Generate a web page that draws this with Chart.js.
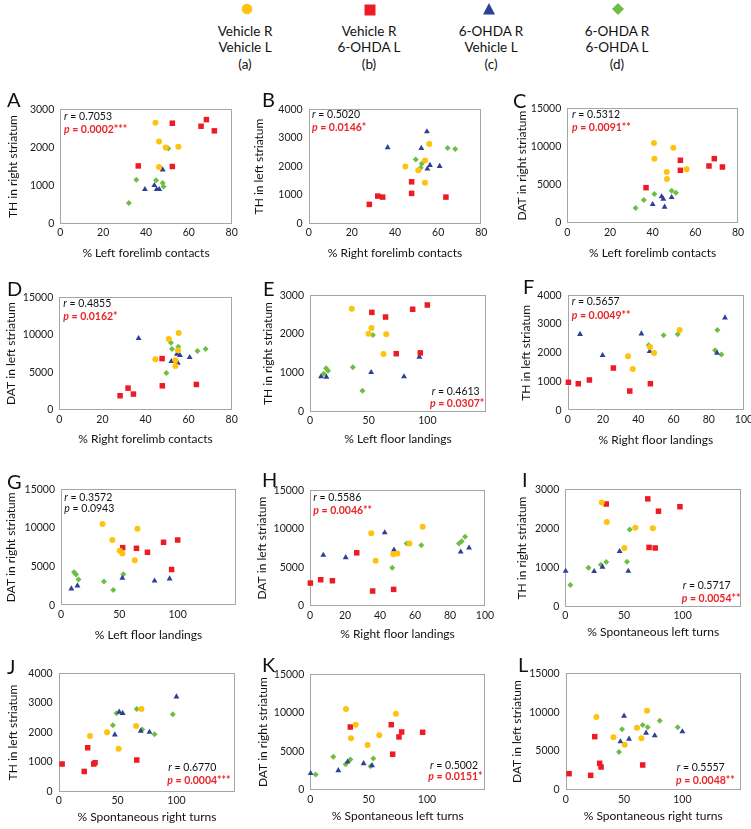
<!DOCTYPE html>
<html><head><meta charset="utf-8">
<script src="https://cdn.jsdelivr.net/npm/chart.js@4.4.1/dist/chart.umd.min.js"></script>
<style>
html,body{margin:0;padding:0;background:#fff;overflow:hidden;width:751px;height:829px;}
body{position:relative;font-family:Lato,'Liberation Sans',sans-serif;color:#111;}
canvas{position:absolute;}
.lbl{position:absolute;font-size:20px;line-height:1;color:#111;}
.ann{position:absolute;font-size:10.5px;line-height:1;white-space:nowrap;color:#111;}
.ann.red{color:#e8262a;font-weight:bold;}
.leg{position:absolute;text-align:center;font-size:13.5px;line-height:16.5px;width:120px;color:#111;}
svg.mk{position:absolute;}
</style></head><body>
<script>
// ---------- groups ----------
const groupLines = [['Vehicle R','Vehicle L','(a)'],['Vehicle R','6-OHDA L','(b)'],['6-OHDA R','Vehicle L','(c)'],['6-OHDA R','6-OHDA L','(d)']];
const groupColors = ['#FFC20E','#ED1C24','#2E3F96','#6DBE45'];
const groupShapes = ['circle','rect','triangle','rectRot'];
const groupRadius = [3,3.9,3.4,3];

// ---------- data: [x, y] per group (a, b, c, d) ----------
const A_a=[[44.4,2650],[46.1,2155],[49.2,2000],[55.1,2015],[46.1,1490]];
const A_b=[[52.3,2635],[65.7,2555],[68.2,2730],[71.9,2435],[36.4,1515],[52.3,1500]];
const A_c=[[39.5,900],[43.9,1005],[45.0,900],[46.2,900],[47.8,1415]];
const A_d=[[50.4,1970],[35.5,1150],[44.7,1140],[47.8,1065],[48.2,975],[32.0,545]];

const B_a=[[44.8,2000],[50.8,1870],[53.9,2210],[53.9,1430],[55.9,2790]];
const B_b=[[28.1,675],[32.0,965],[34.3,930],[47.7,1465],[47.7,1060],[63.6,930]];
const B_c=[[36.6,2665],[52.2,2640],[54.8,3220],[55.0,1920],[56.2,2045],[60.7,2010]];
const B_d=[[49.6,2245],[52.4,2095],[51.9,1955],[64.4,2650],[67.9,2615]];

const C_a=[[40.6,10460],[40.8,8415],[49.7,9855],[46.6,6670],[46.7,5755],[55.9,7020]];
const C_b=[[36.9,4620],[53.0,8200],[53.0,6890],[66.4,7455],[68.9,8415],[72.7,7325]];
const C_c=[[40.0,2440],[44.2,3445],[45.0,3140],[45.6,2095],[48.9,3355]];
const C_d=[[32.0,1960],[35.9,3010],[40.8,3795],[48.9,4230],[50.9,3970]];

const D_a=[[44.6,6750],[50.8,9440],[55.4,10235],[53.9,6620],[53.9,5870],[55.1,7940]];
const D_b=[[28.2,1900],[31.9,2910],[34.4,2120],[47.7,6840],[47.8,3220],[63.6,3400]];
const D_c=[[36.8,9530],[52.0,6485],[54.6,7455],[55.0,6265],[56.0,7280],[60.5,7015]];
const D_d=[[49.7,4940],[51.8,8955],[52.3,8120],[55.2,8425],[64.1,7855],[67.9,8120]];

const E_a=[[35.6,2655],[52.4,2160],[49.9,2010],[65.0,1995],[62.7,1485]];
const E_b=[[52.7,2560],[64.4,2440],[87.5,2640],[100,2750],[73.5,1495],[94.0,1515]];
const E_c=[[9.4,905],[14.0,895],[52.1,1015],[80.1,905],[93.2,1410]];
const E_d=[[13.7,1117],[15.4,1057],[11.7,980],[36.5,1143],[44.7,540],[53.6,1977]];

const F_a=[[34.2,1880],[36.9,1435],[46.7,2200],[49.0,1995],[63.5,2795]];
const F_b=[[0.4,975],[6.0,925],[12.3,1055],[25.9,1470],[35.2,670],[46.9,925]];
const F_c=[[7.0,2645],[19.8,1910],[41.8,2665],[46.5,2050],[84.7,1995],[89.2,3220]];
const F_d=[[45.9,2260],[54.4,2610],[62.4,2645],[84.9,2795],[83.6,2085],[87.2,1945]];

const G_a=[[35.6,10500],[44.0,8445],[65.5,9900],[50.3,7070],[52.6,6685],[63.2,5830]];
const G_b=[[52.9,7455],[64.7,7370],[74.1,6855],[87.9,8145],[100,8445],[94.8,4630]];
const G_c=[[8.9,2145],[14.1,2530],[52.6,3515],[80.2,3170],[93.1,3430]];
const G_d=[[11.2,4280],[12.9,3990],[15.0,3350],[36.8,3085],[44.8,1970],[53.4,4030]];

const H_a=[[35.0,9440],[37.5,5860],[47.6,6725],[49.9,6810],[56.8,8105],[64.4,10260]];
const H_b=[[0.2,2975],[6.1,3405],[12.8,3275],[26.7,6895],[35.8,1940],[47.8,2155]];
const H_c=[[7.6,6595],[20.4,6295],[42.7,9525],[48.0,7285],[86.1,7025],[90.9,7545]];
const H_d=[[47.0,4955],[55.2,8105],[63.6,7885],[85.1,8105],[86.7,8405],[88.6,8965]];

const I_a=[[31.1,2660],[35.4,2165],[59.7,2020],[74.6,2005],[50.3,1500]];
const I_b=[[34.9,2625],[70.3,2755],[79.4,2440],[97.7,2555],[71.4,1515],[76.6,1500]];
const I_c=[[0.3,910],[24.6,905],[31.7,1015],[46.3,1415],[53.7,910]];
const I_d=[[4.3,555],[19.7,995],[30.3,1075],[34.9,1140],[52.6,1150],[54.9,1975]];

const J_a=[[26.6,1880],[41.1,2005],[50.9,1455],[65.7,2220],[70.3,2795]];
const J_b=[[2.9,935],[21.7,685],[24.6,1485],[29.7,935],[30.9,980],[66.3,1070]];
const J_c=[[47.7,1925],[51.4,2695],[54.3,2650],[69.7,2050],[77.1,2015],[100,3210]];
const J_d=[[46.0,2245],[49.1,2650],[66.3,2795],[70.9,2105],[81.4,1940],[96.9,2615]];

const K_a=[[30.6,10490],[38.9,8465],[34.9,6705],[73.4,9885],[59.1,7090],[49.1,5845]];
const K_b=[[34.3,8165],[69.4,8465],[78.3,7520],[76.0,6875],[96.3,7480],[70.6,4640]];
const K_c=[[0.3,2150],[24.0,2535],[32.0,3655],[45.7,3440],[52.9,3180]];
const K_d=[[4.6,2020],[19.7,4300],[30.3,3350],[34.3,3955],[51.7,3095],[54.0,4085]];

const L_a=[[26.3,9385],[40.9,6770],[50.6,5830],[61.1,8015],[64.9,6650],[69.7,10200]];
const L_b=[[2.9,2100],[21.4,1885],[24.9,6855],[29.1,3430],[30.3,2955],[66.0,3215]];
const L_c=[[50.0,9515],[46.9,6215],[54.3,6555],[68.9,7330],[76.3,6985],[100,7500]];
const L_d=[[45.7,4885],[48.3,7800],[66.0,8355],[70.3,8055],[80.6,8915],[96.0,8055]];

// ---------- labels ----------
const panelIds = ['A','B','C','D','E','F','G','H','I','J','K','L'];
const xTitles = ['% Left forelimb contacts','% Right forelimb contacts','% Left forelimb contacts','% Right forelimb contacts','% Left floor landings','% Right floor landings','% Left floor landings','% Right floor landings','% Spontaneous left turns','% Spontaneous right turns','% Spontaneous left turns','% Spontaneous right turns'];
const yTitles = ['TH in right striatum','TH in left striatum','DAT in right striatum','DAT in left striatum','TH in right striatum','TH in left striatum','DAT in right striatum','DAT in left striatum','TH in right striatum','TH in left striatum','DAT in right striatum','DAT in left striatum'];
const rValues = ['0.7053','0.5020','0.5312','0.4855','0.4613','0.5657','0.3572','0.5586','0.5717','0.6770','0.5002','0.5557'];
const pValues = ['0.0002***','0.0146*','0.0091**','0.0162*','0.0307*','0.0049**','0.0943','0.0046**','0.0054**','0.0004***','0.0151*','0.0048**'];
const pSignificant = [true,true,true,true,true,true,false,true,true,true,true,true];
const xMaxes = [80,80,80,80,150,100,150,100,150,150,150,150];
const xSteps = [20,20,20,20,50,20,50,20,50,50,50,50];
const xLabelMax = [80,80,80,80,100,100,100,100,100,100,100,100];
const yMaxes = [3000,4000,15000,15000,3000,4000,15000,15000,3000,4000,15000,15000];
const ySteps = [1000,1000,5000,5000,1000,1000,5000,5000,1000,1000,5000,5000];
const panelData = {A:[A_a,A_b,A_c,A_d],B:[B_a,B_b,B_c,B_d],C:[C_a,C_b,C_c,C_d],D:[D_a,D_b,D_c,D_d],E:[E_a,E_b,E_c,E_d],F:[F_a,F_b,F_c,F_d],G:[G_a,G_b,G_c,G_d],H:[H_a,H_b,H_c,H_d],I:[I_a,I_b,I_c,I_d],J:[J_a,J_b,J_c,J_d],K:[K_a,K_b,K_c,K_d],L:[L_a,L_b,L_c,L_d]};

// ---------- layout (page pixels) ----------
// plot area [left, right, top, bottom], y-title centre x, x-title centre y
const plotBoxes = [
 [60.3,231.7,109,223.7,13.3,252.3],[308.7,481.3,109,223.7,259,252.3],[567.3,738,108.3,223,521.7,252.3],
 [59.3,231.7,296.7,410,11.7,439],[310,486,295.3,411.7,268,439],[567.7,744,295.3,410.3,526,440],
 [61,236,488.7,605.3,11.7,634.3],[310,485,490,606,261.7,634],[565.3,741.3,489.3,606.7,521.7,631.7],
 [58.7,235.3,673.3,791.7,13.3,816.7],[310.3,485.3,673.7,790,263.3,815.7],[565.7,740.7,673.3,790,516.7,815.7]];
const letterPos = [[7,89],[262,89],[513,90],[7,278],[263,278],[523,276],[7,471],[262,469],[522,469],[7,656],[262,654],[518,654]];
const annPos = [[64,111,64,124],[312,108.5,312,122],[572,108.5,572,122],[63.3,298,63.3,311],[431.7,386,430,398],[571.7,296,571.7,310],
 [64.3,492,64.3,503],[313.3,492,313.3,504.5],[682.7,579.5,681.7,593],[168.3,762,167.3,774.5],[430,759.5,428.3,771],[676.7,762,676,774.5]];

Chart.defaults.font.family = "Lato, 'Liberation Sans', sans-serif";
Chart.defaults.color = '#1a1a1a';

const frame = {id:'frame', beforeDatasetsDraw(c){
  const a=c.chartArea, x=c.ctx; x.save(); x.strokeStyle='#a6a6a6'; x.lineWidth=1;
  const l=Math.round(a.left)+0.5, t=Math.round(a.top)+0.5, r=Math.round(a.right)-0.5, b=Math.round(a.bottom)-0.5;
  x.strokeRect(l,t,r-l,b-t); x.restore();
}};

function el(tag, cls, html, css){const e=document.createElement(tag); if(cls)e.className=cls; if(html!=null)e.innerHTML=html; Object.assign(e.style,css||{}); document.body.appendChild(e); return e;}

// legend
const legCenters=[245,369,491,617];
const legMarkers=[[247,9],[370,10],[489,9],[618,9]];
groupLines.forEach((lines,i)=>{
  el('div','leg',lines.join('<br>'),{left:(legCenters[i]-60)+'px',top:'22.5px'});
  const [mx,my]=legMarkers[i]; const s=14;
  let shape='';
  if(i===0) shape=`<circle cx="7" cy="7" r="5.3" fill="${groupColors[0]}"/>`;
  if(i===1) shape=`<rect x="1.5" y="1.5" width="11" height="11" fill="${groupColors[1]}"/>`;
  if(i===2) shape=`<polygon points="7,1 13,12.5 1,12.5" fill="${groupColors[2]}"/>`;
  if(i===3) shape=`<polygon points="7,1 13,7 7,13 1,7" fill="${groupColors[3]}"/>`;
  el('div',null,`<svg class="mk" width="${s}" height="${s}">${shape}</svg>`,{position:'absolute',left:(mx-7)+'px',top:(my-7)+'px',width:s+'px',height:s+'px'});
});

panelIds.forEach((id,i)=>{
  const [L,R,T,B,yt,xt]=plotBoxes[i];
  const half=7.2;
  const cl=Math.round(yt-half), ct=Math.round(T-12);
  const cw=Math.round(R+14-cl), ch=Math.round(xt+half-ct);
  const yW=L-cl, xH=(ct+ch)-B, padTop=T-ct, padRight=(cl+cw)-R;
  const cv=document.createElement('canvas'); cv.width=cw; cv.height=ch;
  Object.assign(cv.style,{left:cl+'px',top:ct+'px',width:cw+'px',height:ch+'px'});
  document.body.appendChild(cv);
  const datasets=panelData[id].map((pts,g)=>({
    label:groupLines[g].join(' '), data:pts.map(p=>({x:p[0],y:p[1]})),
    pointStyle:groupShapes[g], pointRadius:groupRadius[g], pointBackgroundColor:groupColors[g],
    pointBorderColor:groupColors[g], pointBorderWidth:0, clip:false, showLine:false
  }));
  new Chart(cv,{type:'scatter',data:{datasets},plugins:[frame],
    options:{responsive:false,animation:false,events:[],devicePixelRatio:1,
      layout:{padding:{left:0,top:padTop,right:padRight,bottom:0}},
      plugins:{legend:{display:false},tooltip:{enabled:false}},
      scales:{
        x:{type:'linear',min:0,max:xMaxes[i],grid:{display:false,drawTicks:false},border:{display:false},
           ticks:{stepSize:xSteps[i],padding:3,font:{size:10.5},color:'#1a1a1a',maxRotation:0,
             callback:v=>v>xLabelMax[i]?'':String(v)},
           title:{display:true,text:xTitles[i],font:{size:12},color:'#111',padding:0},
           afterFit:s=>{s.height=xH;}},
        y:{type:'linear',min:0,max:yMaxes[i],grid:{display:false,drawTicks:false},border:{display:false},
           ticks:{stepSize:ySteps[i],padding:6,font:{size:10.5},color:'#1a1a1a',callback:v=>String(v)},
           title:{display:true,text:yTitles[i],font:{size:12},color:'#111',padding:0},
           afterFit:s=>{s.width=yW;}}
      }}});
  el('div','lbl',id,{left:letterPos[i][0]+'px',top:letterPos[i][1]+'px'});
  const a=annPos[i];
  el('div','ann','<i>r</i> = '+rValues[i],{left:a[0]+'px',top:a[1]+'px'});
  el('div','ann'+(pSignificant[i]?' red':''),'<i>p</i> = '+pValues[i],{left:a[2]+'px',top:a[3]+'px'});
});
</script>
</body></html>
